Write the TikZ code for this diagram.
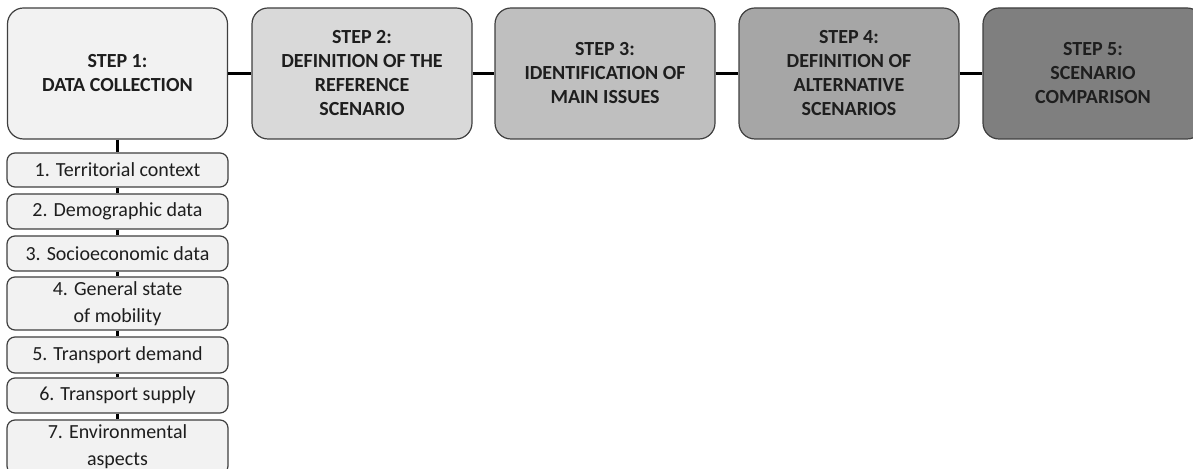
\documentclass[tikz,border=0pt]{standalone}
\usepackage{fontspec}
\setmainfont{Carlito}

\definecolor{fillA}{HTML}{F2F2F2}
\definecolor{fillB}{HTML}{D9D9D9}
\definecolor{fillC}{HTML}{BFBFBF}
\definecolor{fillD}{HTML}{A6A6A6}
\definecolor{fillE}{HTML}{7F7F7F}
\definecolor{rim}{HTML}{3F3F3F}
\definecolor{ink}{HTML}{1E1E1E}

\tikzset{
  stepbox/.style={draw=rim, line width=.6pt, rounded corners=8pt, align=center,
    minimum width=110pt, minimum height=65.5pt, inner sep=0pt, text=ink,
    font=\fontsize{10}{12}\selectfont\bfseries},
  itembox/.style={draw=rim, line width=.6pt, rounded corners=4pt, align=center,
    fill=fillA, minimum width=110.5pt, inner sep=0pt, text=ink,
    font=\fontsize{10}{13.5}\selectfont},
  link/.style={line width=1.5pt, black}
}

\begin{document}
\begin{tikzpicture}[x=.5pt,y=-.5pt]
      \useasboundingbox (0,0) rectangle (1193,469);
      \clip (0,0) rectangle (1193,469);

      % steps
      \node[stepbox,fill=fillA] (s1) at (117.5,73.5) {STEP 1:\\DATA COLLECTION};
      \node[stepbox,fill=fillB] (s2) at (362,73.5) {STEP 2:\\DEFINITION OF THE\\REFERENCE\\SCENARIO};
      \node[stepbox,fill=fillC] (s3) at (605,73.5) {STEP 3:\\IDENTIFICATION OF\\MAIN ISSUES};
      \node[stepbox,fill=fillD] (s4) at (849,73.5) {STEP 4:\\DEFINITION OF\\ALTERNATIVE\\SCENARIOS};
      \node[stepbox,fill=fillE] (s5) at (1093,73.5) {STEP 5:\\SCENARIO\\COMPARISON};
      \foreach \i/\j in {1/2,2/3,3/4,4/5} {
        \draw[link] (s\i) -- (s\j);
      }

      % data collection
      \node[itembox,minimum height=17pt] (d1) at (117.5,170) {1. Territorial context};
      \node[itembox,minimum height=17.5pt] (d2) at (117.5,211.5) {2. Demographic data};
      \node[itembox,minimum height=17.5pt] (d3) at (117.5,253.5) {3. Socioeconomic data};
      \node[itembox,minimum height=26.5pt] (d4) at (117.5,303.5) {4. General state\\of mobility};
      \node[itembox,minimum height=18pt] (d5) at (117.5,355) {5. Transport demand};
      \node[itembox,minimum height=17.5pt] (d6) at (117.5,395.5) {6. Transport supply};
      \node[itembox,minimum height=27pt] (d7) at (117.5,447) {7. Environmental\\aspects};
      \draw[link] (s1) -- (d1);
      \foreach \i/\j in {1/2,2/3,3/4,4/5,5/6,6/7} {
        \draw[link] (d\i) -- (d\j);
      }

\end{tikzpicture}
\end{document}
